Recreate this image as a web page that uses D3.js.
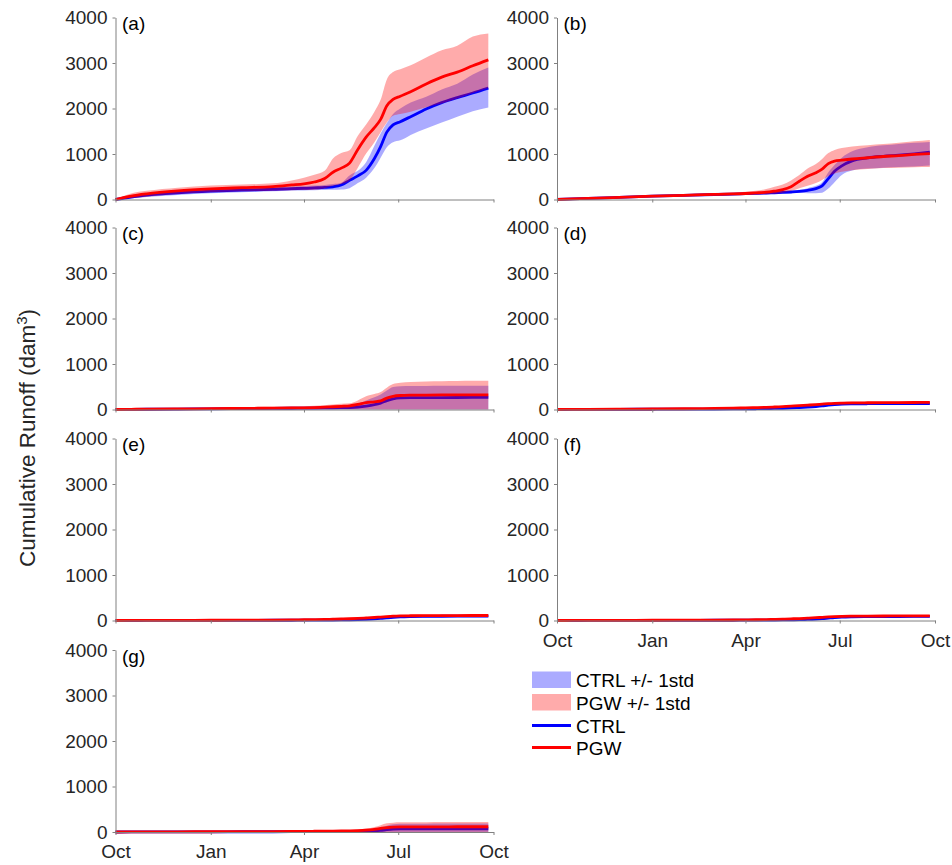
<!DOCTYPE html>
<html>
<head>
<meta charset="utf-8">
<script src="https://cdn.jsdelivr.net/npm/d3@7"></script>
<style>
  html, body { margin: 0; padding: 0; background: #fff; }
  svg { display: block; font-family: "Liberation Sans", Arial, Helvetica, sans-serif; }
</style>
</head>
<body>
<svg id="chart" width="952" height="865"></svg>
<script>
// Day of water year (0 = 1 Oct) at which every series is sampled
const days = [0, 15, 30, 60, 92, 122, 152, 170, 182, 192, 202, 210, 218, 226, 234, 242, 250, 256, 262, 268, 275, 285, 300, 315, 330, 345, 360];

// x-axis ticks
const monthLabels = ["Oct", "Jan", "Apr", "Jul", "Oct"];
const monthDays = [0, 92, 182, 273, 365];
// y-axis ticks
const yTicks = [0, 1000, 2000, 3000, 4000];

const panelIds = ["a", "b", "c", "d", "e", "f", "g"];
const legendLabels = ["CTRL +/- 1std", "PGW +/- 1std", "CTRL", "PGW"];

// (a)
const ctrlMeanA = [0, 55, 95, 145, 182, 205, 225, 240, 245, 255, 265, 280, 320, 420, 520, 640, 900, 1160, 1480, 1640, 1710, 1820, 1990, 2130, 2240, 2340, 2450];
const ctrlLoA   = [0, 25, 55, 100, 140, 160, 180, 195, 200, 205, 210, 215, 220, 250, 360, 480, 690, 920, 1150, 1260, 1300, 1420, 1560, 1690, 1818, 1940, 2020];
const ctrlHiA   = [0, 80, 130, 185, 220, 245, 265, 285, 295, 305, 320, 340, 370, 530, 630, 820, 1180, 1450, 1680, 1880, 2000, 2130, 2260, 2420, 2545, 2745, 2900];
const pgwMeanA  = [0, 75, 125, 190, 233, 260, 285, 320, 345, 385, 460, 600, 690, 800, 1100, 1370, 1580, 1760, 2060, 2200, 2270, 2370, 2540, 2690, 2800, 2940, 3070];
const pgwLoA    = [0, 30, 60, 120, 160, 180, 195, 205, 210, 215, 250, 300, 340, 420, 700, 1010, 1260, 1480, 1690, 1840, 1880, 1930, 2030, 2110, 2220, 2340, 2450];
const pgwHiA    = [0, 130, 190, 260, 305, 330, 355, 420, 480, 545, 630, 900, 1020, 1080, 1400, 1650, 1930, 2190, 2640, 2800, 2860, 2950, 3120, 3280, 3380, 3580, 3650];

// (b)
const ctrlMeanB = [0, 12, 25, 48, 72, 92, 110, 120, 128, 135, 142, 148, 155, 165, 178, 200, 240, 300, 460, 620, 740, 850, 915, 950, 975, 1005, 1040];
const ctrlLoB   = [0, 5, 15, 36, 56, 74, 90, 98, 105, 110, 118, 124, 130, 138, 145, 140, 140, 150, 240, 380, 540, 640, 680, 700, 715, 728, 745];
const ctrlHiB   = [0, 20, 35, 60, 88, 110, 130, 142, 150, 158, 165, 172, 180, 195, 215, 250, 300, 380, 600, 760, 920, 1060, 1150, 1190, 1220, 1245, 1265];
const pgwMeanB  = [0, 12, 25, 48, 72, 92, 112, 122, 132, 145, 160, 185, 215, 280, 400, 510, 590, 670, 790, 845, 865, 890, 918, 945, 965, 990, 1010];
const pgwLoB    = [0, 5, 12, 30, 50, 68, 85, 95, 100, 108, 115, 125, 150, 190, 250, 300, 360, 430, 510, 570, 610, 645, 670, 690, 700, 710, 716];
const pgwHiB    = [0, 22, 40, 68, 95, 118, 140, 155, 170, 190, 230, 280, 330, 420, 540, 680, 780, 890, 1020, 1090, 1130, 1165, 1195, 1220, 1250, 1280, 1310];

// (c)
const ctrlMeanC = [0, 3, 6, 10, 15, 20, 25, 28, 30, 32, 35, 38, 40, 44, 55, 75, 105, 140, 195, 235, 255, 260, 262, 263, 264, 265, 265];
const ctrlLoC   = [0, 0, 0, 0, 0, 0, 0, 0, 0, 0, 0, 0, 0, 0, 0, 0, 0, 0, 0, 0, 0, 0, 0, 0, 0, 0, 0];
const ctrlHiC   = [0, 8, 15, 25, 35, 42, 48, 52, 55, 58, 62, 68, 80, 100, 130, 200, 270, 330, 420, 495, 512, 516, 518, 520, 521, 522, 522];
const pgwMeanC  = [0, 4, 8, 13, 18, 24, 30, 34, 37, 42, 50, 60, 70, 80, 110, 150, 170, 190, 250, 290, 308, 315, 318, 320, 321, 322, 323];
const pgwLoC    = [0, 0, 0, 0, 0, 0, 0, 0, 0, 0, 0, 0, 0, 0, 0, 0, 0, 0, 0, 0, 0, 0, 0, 0, 0, 0, 0];
const pgwHiC    = [0, 10, 18, 30, 40, 50, 58, 65, 70, 80, 95, 110, 125, 135, 200, 290, 340, 385, 480, 560, 590, 605, 615, 620, 625, 630, 632];

// (d)
const ctrlMeanD = [0, 1, 2, 4, 6, 8, 10, 12, 14, 17, 20, 24, 28, 34, 42, 52, 65, 78, 95, 108, 118, 124, 127, 128, 129, 130, 130];
const ctrlLoD   = [0, 0, 0, 1, 2, 3, 4, 5, 6, 8, 10, 13, 16, 21, 28, 37, 48, 60, 75, 87, 96, 102, 105, 106, 107, 108, 108];
const ctrlHiD   = [0, 3, 5, 8, 11, 14, 17, 20, 23, 27, 31, 36, 41, 48, 57, 68, 83, 97, 116, 130, 140, 146, 149, 150, 151, 152, 152];
const pgwMeanD  = [0, 2, 4, 7, 11, 16, 24, 30, 36, 42, 48, 55, 64, 74, 85, 96, 108, 118, 128, 135, 140, 145, 148, 150, 152, 154, 155];
const pgwLoD    = [0, 0, 1, 3, 6, 10, 16, 21, 26, 31, 36, 42, 50, 59, 69, 79, 90, 99, 108, 114, 118, 122, 125, 127, 129, 131, 132];
const pgwHiD    = [0, 4, 7, 11, 16, 22, 32, 40, 47, 54, 61, 69, 79, 90, 102, 114, 127, 138, 149, 157, 162, 168, 171, 173, 175, 177, 178];

// (e)
const ctrlMeanE = [0, 0, 1, 2, 3, 4, 5, 6, 7, 8, 9, 11, 13, 16, 20, 26, 35, 45, 58, 70, 80, 87, 91, 93, 94, 95, 95];
const ctrlLoE   = [0, 0, 0, 1, 2, 3, 3, 4, 5, 5, 6, 7, 8, 10, 13, 17, 24, 31, 41, 51, 59, 65, 68, 70, 71, 72, 72];
const ctrlHiE   = [0, 1, 2, 3, 4, 5, 7, 8, 9, 11, 12, 15, 18, 22, 27, 35, 46, 59, 75, 89, 101, 109, 114, 116, 117, 118, 118];
const pgwMeanE  = [0, 1, 2, 3, 5, 7, 10, 13, 16, 20, 24, 28, 33, 39, 46, 55, 66, 76, 86, 94, 100, 104, 107, 108, 109, 110, 110];
const pgwLoE    = [0, 0, 1, 2, 3, 5, 7, 9, 11, 14, 17, 20, 24, 28, 34, 41, 50, 58, 66, 73, 78, 81, 84, 85, 86, 87, 87];
const pgwHiE    = [0, 2, 3, 4, 7, 9, 13, 17, 21, 26, 31, 36, 42, 50, 58, 69, 82, 94, 106, 115, 122, 127, 130, 131, 132, 133, 133];

// (f)
const ctrlMeanF = [0, 0, 1, 2, 3, 4, 5, 6, 7, 8, 9, 10, 12, 14, 18, 23, 31, 40, 52, 64, 74, 81, 85, 87, 88, 89, 89];
const ctrlLoF   = [0, 0, 0, 1, 2, 3, 3, 4, 5, 5, 6, 7, 8, 9, 12, 15, 21, 28, 37, 46, 54, 60, 63, 65, 66, 67, 67];
const ctrlHiF   = [0, 1, 2, 3, 4, 5, 7, 8, 9, 11, 12, 13, 16, 19, 24, 31, 41, 52, 67, 82, 94, 102, 107, 109, 110, 111, 111];
const pgwMeanF  = [0, 1, 2, 3, 5, 7, 9, 11, 14, 17, 21, 25, 30, 36, 43, 51, 61, 70, 79, 86, 91, 95, 98, 99, 100, 101, 101];
const pgwLoF    = [0, 0, 1, 2, 3, 5, 6, 8, 10, 12, 15, 18, 22, 26, 32, 38, 46, 53, 60, 66, 70, 73, 76, 77, 78, 79, 79];
const pgwHiF    = [0, 2, 3, 4, 7, 9, 12, 14, 18, 22, 27, 32, 38, 46, 54, 64, 76, 87, 98, 106, 112, 117, 120, 121, 122, 123, 123];

// (g)
const ctrlMeanG = [0, 1, 2, 3, 4, 5, 6, 7, 8, 9, 10, 11, 12, 13, 15, 18, 25, 35, 50, 62, 68, 70, 70, 71, 71, 71, 71];
const ctrlLoG   = [0, 0, 0, 0, 0, 0, 0, 0, 0, 0, 0, 0, 0, 0, 0, 0, 0, 0, 0, 0, 0, 0, 0, 0, 0, 0, 0];
const ctrlHiG   = [0, 2, 4, 6, 8, 10, 12, 14, 16, 18, 20, 22, 24, 27, 32, 45, 70, 100, 140, 170, 180, 183, 184, 185, 185, 186, 186];
const pgwMeanG  = [0, 1, 2, 4, 6, 8, 10, 12, 14, 16, 18, 20, 22, 25, 30, 40, 60, 80, 98, 108, 112, 113, 114, 114, 115, 115, 115];
const pgwLoG    = [0, 0, 0, 0, 0, 0, 0, 0, 0, 0, 0, 0, 0, 0, 0, 0, 0, 0, 0, 0, 0, 0, 0, 0, 0, 0, 0];
const pgwHiG    = [0, 3, 5, 8, 11, 14, 17, 20, 23, 26, 30, 34, 38, 44, 55, 75, 110, 150, 190, 205, 212, 215, 217, 218, 219, 220, 220];

const panelSeries = [
  { ctrl: [ctrlLoA, ctrlMeanA, ctrlHiA], pgw: [pgwLoA, pgwMeanA, pgwHiA] },
  { ctrl: [ctrlLoB, ctrlMeanB, ctrlHiB], pgw: [pgwLoB, pgwMeanB, pgwHiB] },
  { ctrl: [ctrlLoC, ctrlMeanC, ctrlHiC], pgw: [pgwLoC, pgwMeanC, pgwHiC] },
  { ctrl: [ctrlLoD, ctrlMeanD, ctrlHiD], pgw: [pgwLoD, pgwMeanD, pgwHiD] },
  { ctrl: [ctrlLoE, ctrlMeanE, ctrlHiE], pgw: [pgwLoE, pgwMeanE, pgwHiE] },
  { ctrl: [ctrlLoF, ctrlMeanF, ctrlHiF], pgw: [pgwLoF, pgwMeanF, pgwHiF] },
  { ctrl: [ctrlLoG, ctrlMeanG, ctrlHiG], pgw: [pgwLoG, pgwMeanG, pgwHiG] }
];

// Styling
const BLUE = "#0000ff", RED = "#ff0000";
const BAND_OPACITY = 0.33;
const AXIS_GREY = "#808080", TEXT = "#262626";
const FONT_SIZE = 19;

// Grid of axes: two columns, four rows
const colLeft = [115.5, 557];
const plotW = 378;
const rowTop = [17.5, 227.5, 438.5, 650];
const plotH = 182;

const svg = d3.select("#chart");

function drawPanel(i) {
  const col = i % 2, row = Math.floor(i / 2);
  const x0 = colLeft[col], y0 = rowTop[row];
  const x = d3.scaleLinear().domain([0, 365]).range([x0, x0 + plotW]);
  const y = d3.scaleLinear().domain([0, 4000]).range([y0 + plotH, y0]);
  const g = svg.append("g");
  const s = panelSeries[i];

  const area = (lo, hi) => d3.area()
    .x((d, k) => x(days[k]))
    .y0((d, k) => y(lo[k]))
    .y1((d, k) => y(hi[k]))
    .curve(d3.curveMonotoneX)(days);
  const line = (v) => d3.line()
    .x((d, k) => x(days[k]))
    .y((d, k) => y(v[k]))
    .curve(d3.curveMonotoneX)(days);

  // CTRL band and mean, then PGW band and mean on top
  g.append("path").attr("d", area(s.ctrl[0], s.ctrl[2]))
    .attr("fill", BLUE).attr("fill-opacity", BAND_OPACITY);
  g.append("path").attr("d", line(s.ctrl[1]))
    .attr("fill", "none").attr("stroke", BLUE).attr("stroke-width", 2.8)
    .attr("stroke-linejoin", "round");
  g.append("path").attr("d", area(s.pgw[0], s.pgw[2]))
    .attr("fill", RED).attr("fill-opacity", BAND_OPACITY);
  g.append("path").attr("d", line(s.pgw[1]))
    .attr("fill", "none").attr("stroke", RED).attr("stroke-width", 2.8)
    .attr("stroke-linejoin", "round");

  // Axes
  const yAxis = d3.axisLeft(y).tickValues(yTicks).tickSize(3).tickSizeOuter(0).tickPadding(5)
    .tickFormat(d3.format("d"));
  const ga = g.append("g").attr("transform", `translate(${x0},0)`).call(yAxis);

  const showX = (i === 5 || i === 6);
  const xAxis = d3.axisBottom(x).tickValues(monthDays).tickSize(3).tickSizeOuter(0).tickPadding(10)
    .tickFormat((d, k) => showX ? monthLabels[k] : "");
  const gx = g.append("g").attr("transform", `translate(0,${y0 + plotH})`).call(xAxis);

  [ga, gx].forEach(a => {
    a.select(".domain").attr("stroke", AXIS_GREY);
    a.selectAll(".tick line").attr("stroke", AXIS_GREY);
    a.selectAll(".tick text").attr("fill", TEXT)
      .style("font-size", FONT_SIZE + "px")
      .style("font-family", '"Liberation Sans", Arial, sans-serif');
  });

  g.append("text")
    .attr("x", x0 + 6.5).attr("y", y0 + 12.5)
    .attr("fill", "#000").style("font-size", FONT_SIZE + "px")
    .text(`(${panelIds[i]})`);
}

panelIds.forEach((id, i) => drawPanel(i));

// Shared y-axis title
const yTitle = svg.append("text")
  .attr("transform", "translate(35,438) rotate(-90)")
  .attr("text-anchor", "middle")
  .attr("fill", TEXT)
  .style("font-size", "22.5px");
yTitle.append("tspan").text("Cumulative Runoff (dam");
yTitle.append("tspan").attr("baseline-shift", "super").style("font-size", "15px").text("3");
yTitle.append("tspan").text(")");

// Legend
const legend = svg.append("g");
const lgX = 532, lgW = 39, textX = 576;
const lgRows = [687, 710, 733, 755];
legend.append("rect").attr("x", lgX).attr("y", lgRows[0] - 15.5).attr("width", lgW).attr("height", 16.5)
  .attr("fill", BLUE).attr("fill-opacity", BAND_OPACITY);
legend.append("rect").attr("x", lgX).attr("y", lgRows[1] - 16).attr("width", lgW).attr("height", 16.5)
  .attr("fill", RED).attr("fill-opacity", BAND_OPACITY);
legend.append("line").attr("x1", lgX).attr("x2", lgX + lgW).attr("y1", lgRows[2] - 7.5).attr("y2", lgRows[2] - 7.5)
  .attr("stroke", BLUE).attr("stroke-width", 2.8);
legend.append("line").attr("x1", lgX).attr("x2", lgX + lgW).attr("y1", lgRows[3] - 7.5).attr("y2", lgRows[3] - 7.5)
  .attr("stroke", RED).attr("stroke-width", 2.8);
legendLabels.forEach((t, k) => {
  legend.append("text").attr("x", textX).attr("y", lgRows[k])
    .attr("fill", "#000").style("font-size", FONT_SIZE + "px").text(t);
});
</script>
</body>
</html>
